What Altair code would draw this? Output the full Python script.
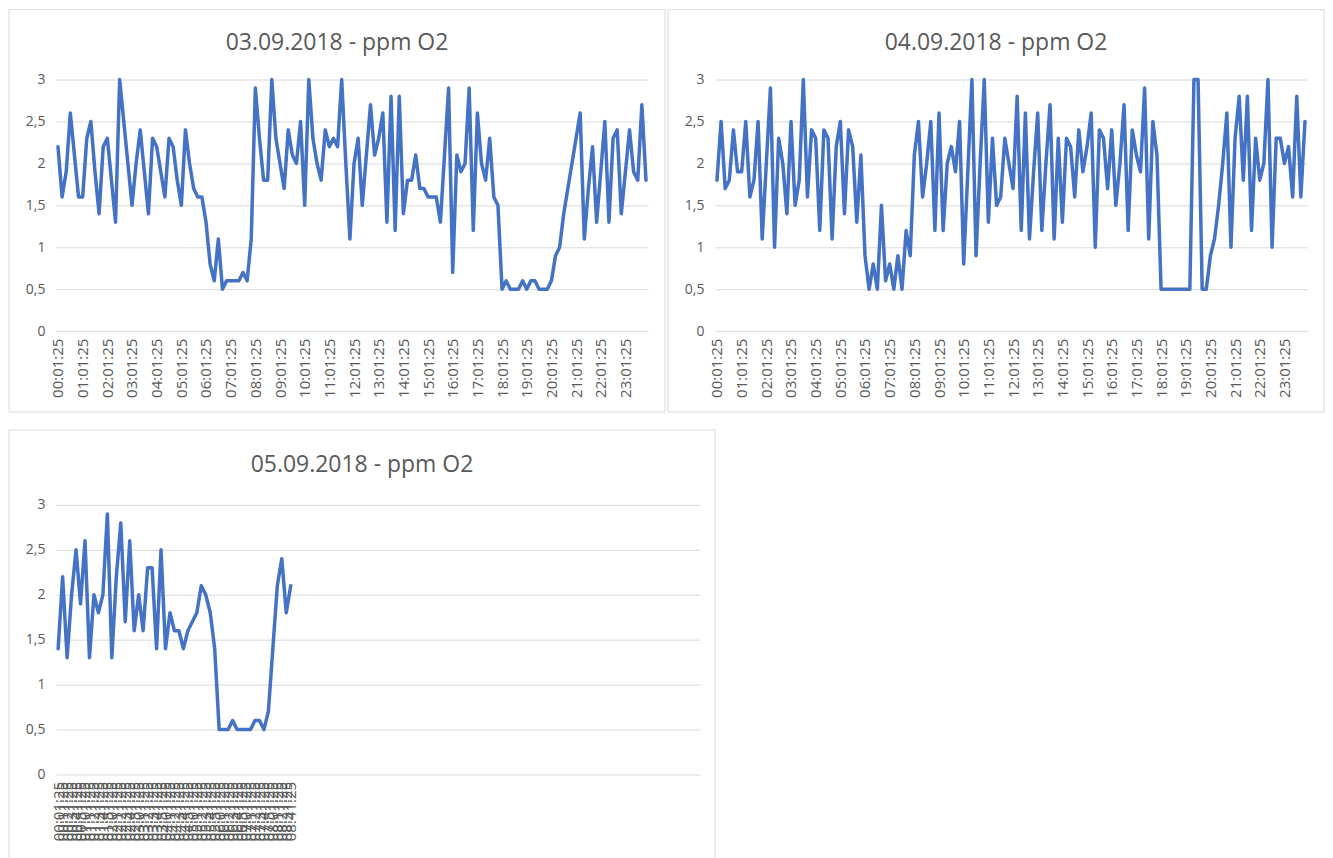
import altair as alt
import pandas as pd

# Category axis: one reading every 10 minutes (144 per day)
times = [f"{h:02d}:{m:02d}:25" for h in range(24) for m in range(1, 60, 10)]

titles = ["03.09.2018 - ppm O2", "04.09.2018 - ppm O2", "05.09.2018 - ppm O2"]
y_ticks = [0, 0.5, 1, 1.5, 2, 2.5, 3]

o2_0309 = [
    2.2, 1.6, 1.9, 2.6, 2.1, 1.6, 1.6, 2.3, 2.5, 1.9, 1.4, 2.2, 2.3, 1.8, 1.3, 3.0,
    2.5, 2.0, 1.5, 2.0, 2.4, 1.9, 1.4, 2.3, 2.2, 1.9, 1.6, 2.3, 2.2, 1.8, 1.5, 2.4,
    2.0, 1.7, 1.6, 1.6, 1.3, 0.8, 0.6, 1.1, 0.5, 0.6, 0.6, 0.6, 0.6, 0.7, 0.6, 1.1,
    2.9, 2.3, 1.8, 1.8, 3.0, 2.3, 2.0, 1.7, 2.4, 2.1, 2.0, 2.5, 1.5, 3.0, 2.3, 2.0,
    1.8, 2.4, 2.2, 2.3, 2.2, 3.0, 2.0, 1.1, 2.0, 2.3, 1.5, 2.1, 2.7, 2.1, 2.3, 2.6,
    1.3, 2.8, 1.2, 2.8, 1.4, 1.8, 1.8, 2.1, 1.7, 1.7, 1.6, 1.6, 1.6, 1.3, 2.1, 2.9,
    0.7, 2.1, 1.9, 2.0, 2.9, 1.2, 2.6, 2.0, 1.8, 2.3, 1.6, 1.5, 0.5, 0.6, 0.5, 0.5,
    0.5, 0.6, 0.5, 0.6, 0.6, 0.5, 0.5, 0.5, 0.6, 0.9, 1.0, 1.4, 1.7, 2.0, 2.3, 2.6,
    1.1, 1.7, 2.2, 1.3, 1.9, 2.5, 1.3, 2.3, 2.4, 1.4, 1.9, 2.4, 1.9, 1.8, 2.7, 1.8,
]

o2_0409 = [
    1.8, 2.5, 1.7, 1.8, 2.4, 1.9, 1.9, 2.5, 1.6, 1.8, 2.5, 1.1, 2.0, 2.9, 1.0, 2.3,
    2.0, 1.4, 2.5, 1.5, 1.8, 3.0, 1.6, 2.4, 2.3, 1.2, 2.4, 2.3, 1.1, 2.2, 2.5, 1.4,
    2.4, 2.2, 1.3, 2.1, 0.9, 0.5, 0.8, 0.5, 1.5, 0.6, 0.8, 0.5, 0.9, 0.5, 1.2, 0.9,
    2.1, 2.5, 1.6, 2.0, 2.5, 1.2, 2.6, 1.2, 2.0, 2.2, 1.9, 2.5, 0.8, 1.9, 3.0, 0.9,
    2.0, 3.0, 1.3, 2.3, 1.5, 1.6, 2.3, 2.0, 1.7, 2.8, 1.2, 2.6, 1.1, 1.9, 2.6, 1.2,
    2.0, 2.7, 1.1, 2.3, 1.3, 2.3, 2.2, 1.6, 2.4, 1.9, 2.2, 2.6, 1.0, 2.4, 2.3, 1.7,
    2.4, 1.5, 2.0, 2.7, 1.2, 2.4, 2.1, 1.9, 2.9, 1.1, 2.5, 2.1, 0.5, 0.5, 0.5, 0.5,
    0.5, 0.5, 0.5, 0.5, 3.0, 3.0, 0.5, 0.5, 0.9, 1.1, 1.5, 2.0, 2.6, 1.0, 2.3, 2.8,
    1.8, 2.8, 1.2, 2.3, 1.8, 2.0, 3.0, 1.0, 2.3, 2.3, 2.0, 2.2, 1.6, 2.8, 1.6, 2.5,
]

o2_0509 = [
    1.4, 2.2, 1.3, 2.0, 2.5, 1.9, 2.6, 1.3, 2.0, 1.8, 2.0, 2.9, 1.3, 2.2, 2.8, 1.7,
    2.6, 1.6, 2.0, 1.6, 2.3, 2.3, 1.4, 2.5, 1.4, 1.8, 1.6, 1.6, 1.4, 1.6, 1.7, 1.8,
    2.1, 2.0, 1.8, 1.4, 0.5, 0.5, 0.5, 0.6, 0.5, 0.5, 0.5, 0.5, 0.6, 0.6, 0.5, 0.7,
    1.4, 2.1, 2.4, 1.8, 2.1,
]

LINE = "#4472C4"
GRID = "#d9d9d9"
TEXT = "#595959"
FONT = "Open Sans"


def panel(values, title, tick_labels, W, H, frame, title_y):
    left, right, top, bottom = frame
    df = pd.DataFrame({"t": times[:len(values)], "v": values})
    line = alt.Chart(df).mark_line(
        color=LINE, strokeWidth=3.5, strokeJoin="round", strokeCap="round"
    ).encode(
        x=alt.X(
            "t:O",
            sort=times,
            scale=alt.Scale(type="point", domain=times, padding=0.5),
            axis=alt.Axis(
                values=tick_labels, labelAngle=270, domain=False, ticks=False,
                grid=False, labelPadding=7, labelFontSize=15, labelColor=TEXT,
                labelFont=FONT, title=None, labelOverlap=False,
            ),
        ),
        y=alt.Y(
            "v:Q",
            scale=alt.Scale(domain=[0, 3], nice=False, zero=True),
            axis=alt.Axis(
                values=y_ticks,
                labelExpr="replace(toString(datum.value), '.', ',')",
                grid=True, gridColor=GRID, gridWidth=1, domain=False, ticks=False,
                labelPadding=11, labelFontSize=14, labelColor=TEXT, labelFont=FONT,
                title=None,
            ),
        ),
    )
    box = alt.Chart(pd.DataFrame({"k": [0]})).mark_rect(
        fill="white", fillOpacity=0, stroke=GRID, strokeWidth=1
    ).encode(
        x=alt.value(left), x2=alt.value(right), y=alt.value(top), y2=alt.value(bottom)
    )
    head = alt.Chart(pd.DataFrame({"title": [title]})).mark_text(
        font=FONT, fontSize=23, color=TEXT, align="center", baseline="middle"
    ).encode(
        text="title:N", x=alt.value((left + right) / 2), y=alt.value(title_y)
    )
    return alt.layer(box, line, head).properties(width=W, height=H)


# Whole layout kept within 1317 px so the page never has to shrink it
W1, H1 = 593, 252
c1 = panel(o2_0309, titles[0], times[::6], W1, H1, (-47, W1 + 17, -70, H1 + 81), -37)
c2 = panel(o2_0409, titles[1], times[::6], W1, H1, (-47, W1 + 17, -70, H1 + 81), -37)
W3, H3 = 645, 270
c3 = panel(o2_0509, titles[2], times[:len(o2_0509)], W3, H3, (-47, W3 + 15, -75, H3 + 100), -40)

chart = alt.vconcat(
    alt.hconcat(c1, c2, spacing=1),
    c3,
    spacing=16,
).properties(padding=0).configure(padding=0).configure_view(stroke=None).configure_concat(spacing=1)

chart.save("out.html", embed_options={"renderer": "svg", "actions": False, "padding": 0})
